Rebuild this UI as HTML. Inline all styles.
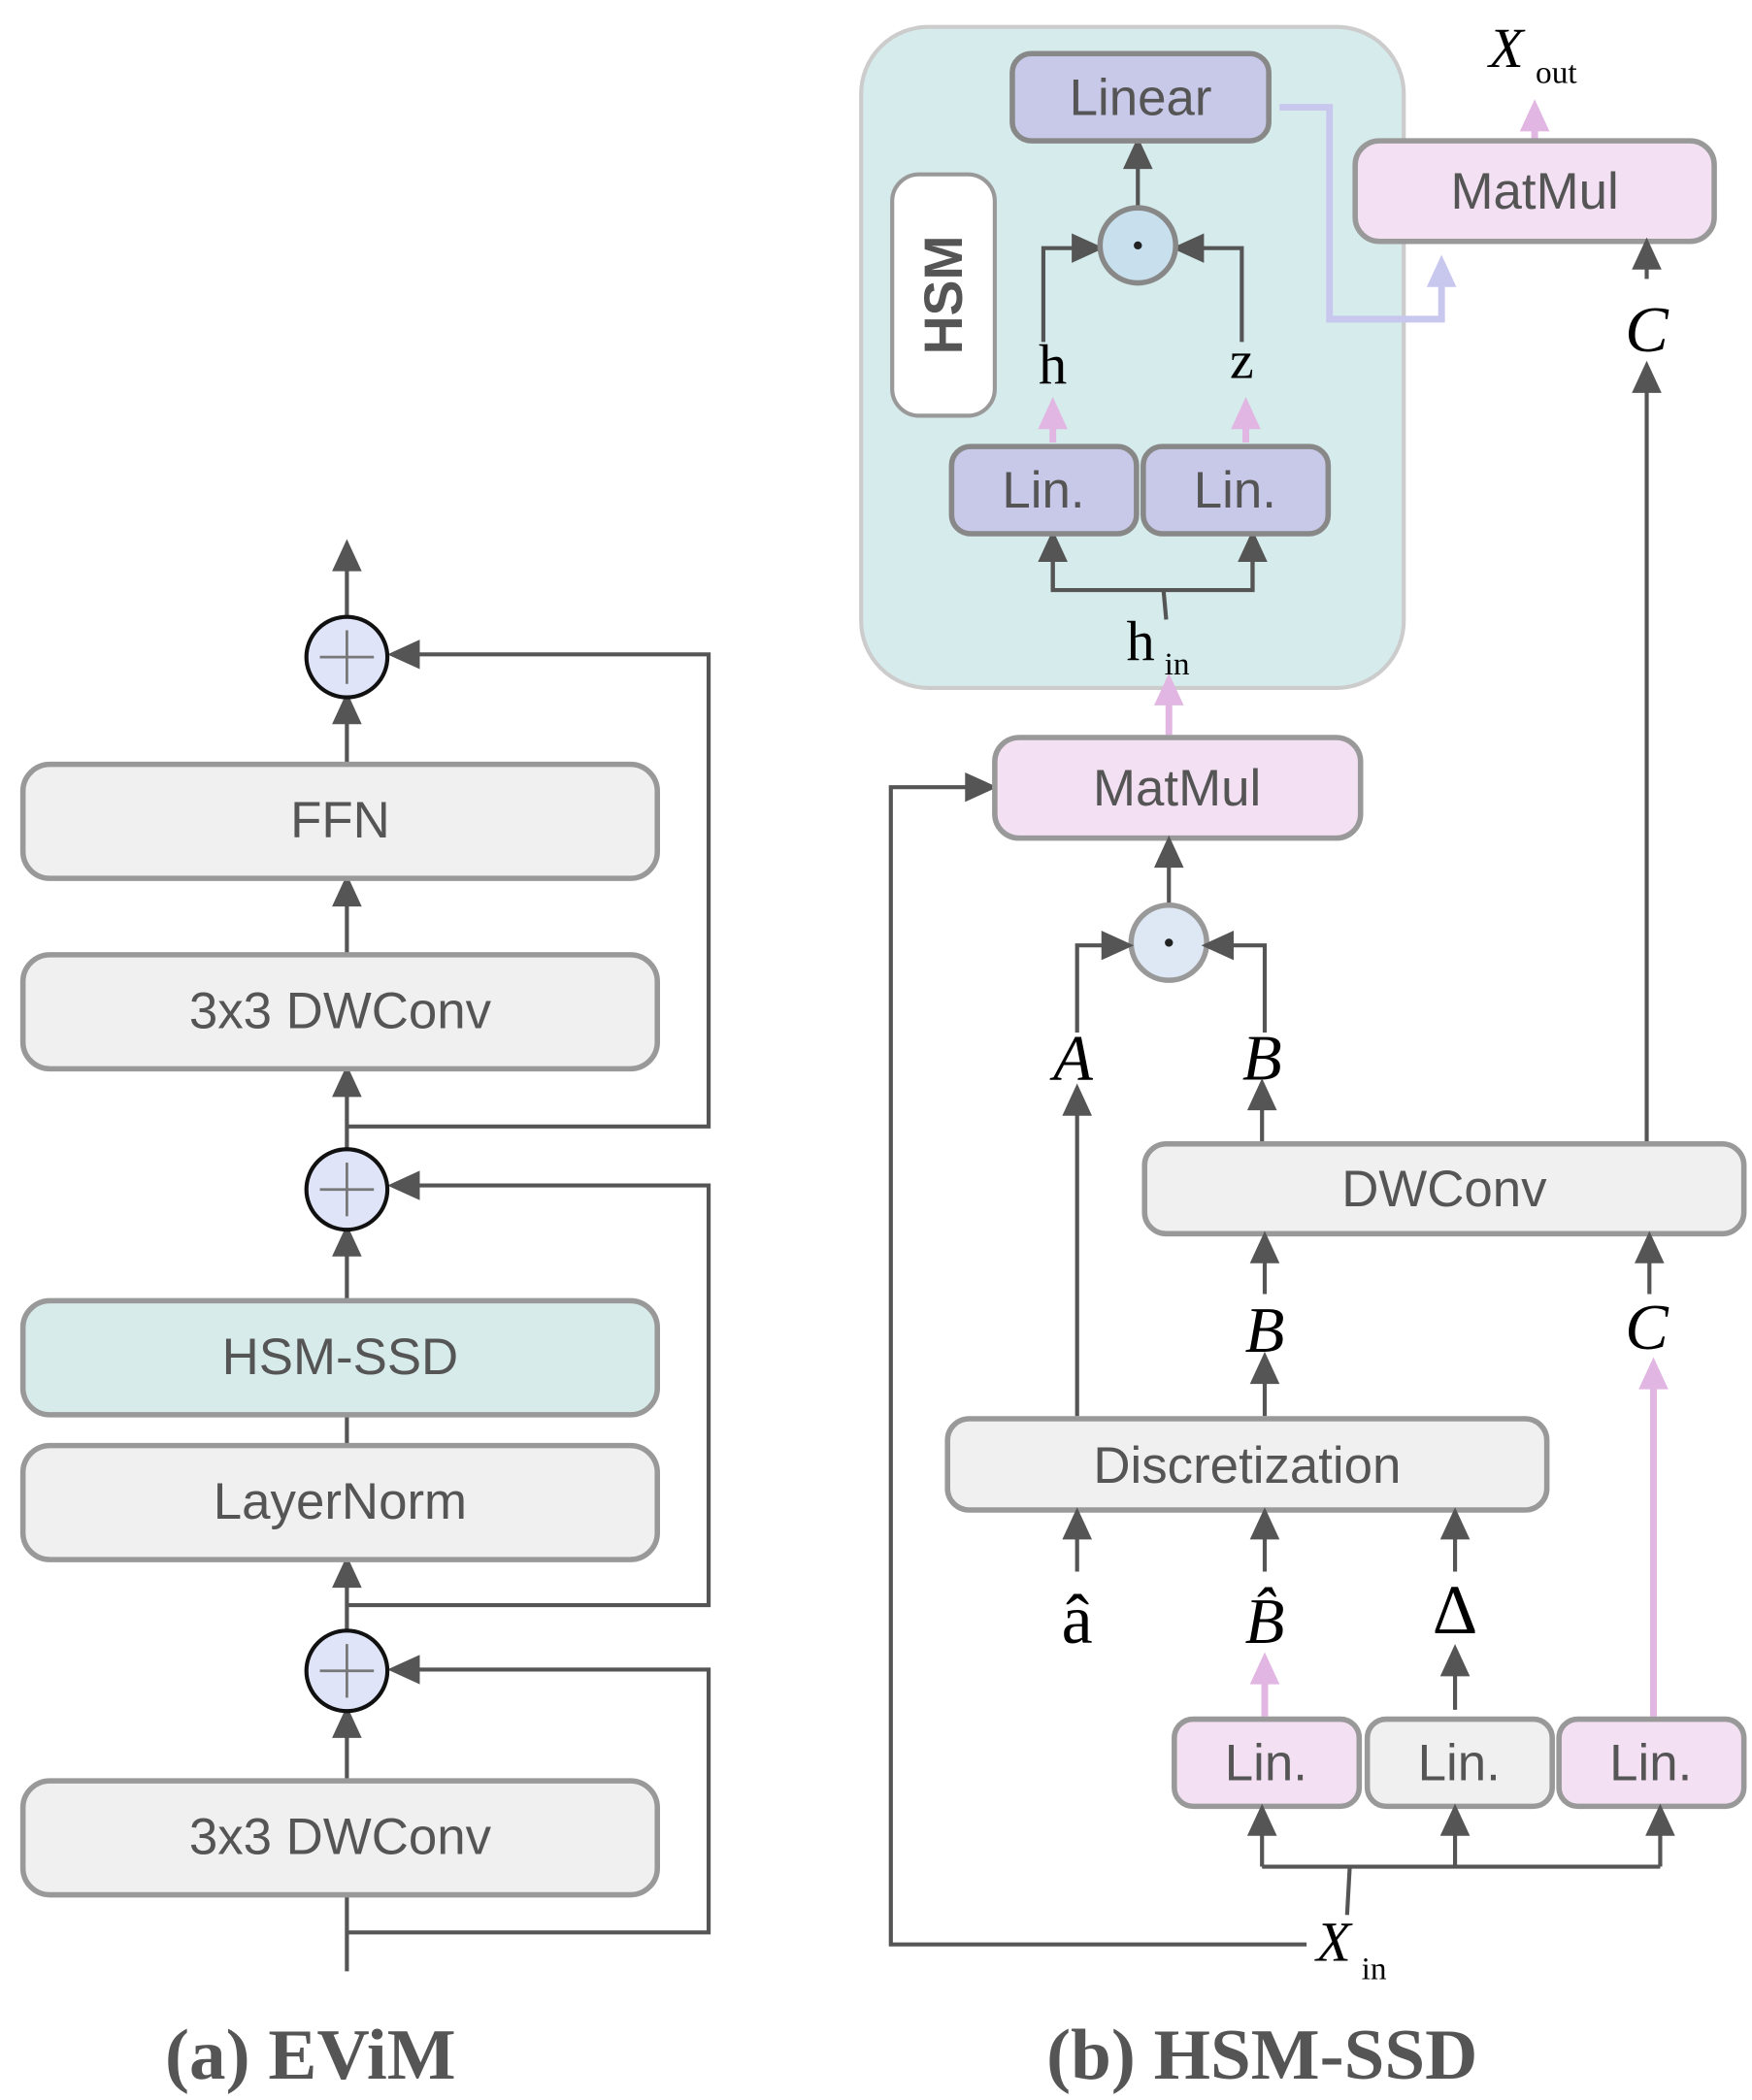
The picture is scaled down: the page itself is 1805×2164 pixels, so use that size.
<!DOCTYPE html>
<html><head><meta charset="utf-8">
<style>
html,body{margin:0;padding:0;background:#fff;}
svg{display:block;}
.box{stroke:#999;stroke-width:4;}
.t{font-family:"Liberation Sans",sans-serif;font-size:38px;fill:#555;text-anchor:middle;dominant-baseline:central;}
.ln{stroke:#555;stroke-width:3;fill:none;}
.pk{stroke:#e2b6e2;stroke-width:5;fill:none;}
.sv{font-family:"Liberation Serif",serif;fill:#000;text-anchor:middle;}
</style></head><body>
<svg width="1805" height="2164" viewBox="0 0 1298 1566" preserveAspectRatio="none" xmlns="http://www.w3.org/2000/svg">
<defs>
<marker id="a" viewBox="0 0 10 10" refX="9" refY="5" markerWidth="10" markerHeight="10" orient="auto" markerUnits="userSpaceOnUse" style="overflow:visible">
<path d="M-12,-11 L12,0 L-12,11 Z" fill="#555" transform="translate(9,5)"/></marker>
<marker id="p" viewBox="0 0 10 10" refX="9" refY="5" markerWidth="10" markerHeight="10" orient="auto" markerUnits="userSpaceOnUse" style="overflow:visible">
<path d="M-12,-11 L12,0 L-12,11 Z" fill="#e2b6e2" transform="translate(9,5)"/></marker>
<marker id="v" viewBox="0 0 10 10" refX="9" refY="5" markerWidth="10" markerHeight="10" orient="auto" markerUnits="userSpaceOnUse" style="overflow:visible">
<path d="M-12,-11 L12,0 L-12,11 Z" fill="#c8c8ee" transform="translate(9,5)"/></marker>
</defs>

<!-- LEFT: EViM -->
<g>
<line class="ln" x1="257" y1="1470" x2="257" y2="1284" marker-end="url(#a)"/>
<line class="ln" x1="257" y1="1216" x2="257" y2="1172" marker-end="url(#a)"/>
<line class="ln" x1="257" y1="1078" x2="257" y2="1055"/>
<line class="ln" x1="257" y1="970" x2="257" y2="925" marker-end="url(#a)"/>
<line class="ln" x1="257" y1="857" x2="257" y2="806" marker-end="url(#a)"/>
<line class="ln" x1="257" y1="712" x2="257" y2="664" marker-end="url(#a)"/>
<line class="ln" x1="257" y1="570" x2="257" y2="528" marker-end="url(#a)"/>
<line class="ln" x1="257" y1="460" x2="257" y2="414" marker-end="url(#a)"/>
<polyline class="ln" points="257,1441 525,1441 525,1245 299,1245" marker-end="url(#a)"/>
<polyline class="ln" points="257,1197 525,1197 525,884 299,884" marker-end="url(#a)"/>
<polyline class="ln" points="257,840 525,840 525,488 299,488" marker-end="url(#a)"/>

<rect class="box" x="17" y="570" width="470" height="85" rx="20" fill="#f0f0f0"/>
<text class="t" x="252" y="612">FFN</text>
<rect class="box" x="17" y="712" width="470" height="85" rx="20" fill="#f0f0f0"/>
<text class="t" x="252" y="754">3x3 DWConv</text>
<rect class="box" x="17" y="970" width="470" height="85" rx="20" fill="#d8ebeb"/>
<text class="t" x="252" y="1012">HSM-SSD</text>
<rect class="box" x="17" y="1078" width="470" height="85" rx="20" fill="#f0f0f0"/>
<text class="t" x="252" y="1120">LayerNorm</text>
<rect class="box" x="17" y="1328" width="470" height="85" rx="20" fill="#f0f0f0"/>
<text class="t" x="252" y="1370">3x3 DWConv</text>

<g stroke="#111" stroke-width="3">
<circle cx="257" cy="490" r="30" fill="#e0e4f8"/>
<circle cx="257" cy="887" r="30" fill="#e0e4f8"/>
<circle cx="257" cy="1246" r="30" fill="#e0e4f8"/>
</g>
<g stroke="#777" stroke-width="2">
<line x1="237" y1="490" x2="277" y2="490"/><line x1="257" y1="470" x2="257" y2="510"/>
<line x1="237" y1="887" x2="277" y2="887"/><line x1="257" y1="867" x2="257" y2="907"/>
<line x1="237" y1="1246" x2="277" y2="1246"/><line x1="257" y1="1226" x2="257" y2="1266"/>
</g>
</g>

<!-- RIGHT: HSM-SSD -->
<rect x="638" y="20" width="402" height="493" rx="50" fill="#d6ebeb" stroke="#ccc" stroke-width="3"/>
<rect x="661" y="130" width="76" height="180" rx="20" fill="#fff" stroke="#999" stroke-width="3"/>
<text x="699" y="220" transform="rotate(-90 699 220)" text-anchor="middle" dominant-baseline="central" font-family="Liberation Sans,sans-serif" font-weight="bold" font-size="40" fill="#555">HSM</text>

<polyline points="948,80 985,80 985,238 1068,238 1068,202" fill="none" stroke="#c8c8ee" stroke-width="5" marker-end="url(#v)"/>

<line class="ln" x1="843" y1="155" x2="843" y2="114" marker-end="url(#a)"/>
<polyline class="ln" points="773,255 773,185 806,185" marker-end="url(#a)"/>
<polyline class="ln" points="920,255 920,185 880,185" marker-end="url(#a)"/>
<line class="pk" x1="780" y1="330" x2="780" y2="308" marker-end="url(#p)"/>
<line class="pk" x1="923" y1="330" x2="923" y2="308" marker-end="url(#p)"/>
<polyline class="ln" points="780,410 780,440 928,440 928,410"/>
<line class="ln" x1="780" y1="440" x2="780" y2="407" marker-end="url(#a)"/>
<line class="ln" x1="928" y1="440" x2="928" y2="407" marker-end="url(#a)"/>
<line class="ln" x1="862" y1="440" x2="864" y2="462"/>
<line class="pk" x1="866" y1="548" x2="866" y2="514" marker-end="url(#p)"/>

<rect x="750" y="40" width="190" height="65" rx="14" fill="#c8c8e8" stroke="#888" stroke-width="4"/>
<text class="t" x="845" y="73">Linear</text>
<circle cx="843" cy="183" r="28" fill="#c8e0ee" stroke="#888" stroke-width="4"/>
<circle cx="843" cy="183" r="3" fill="#222"/>
<rect x="705" y="333" width="137" height="65" rx="14" fill="#c8c8e8" stroke="#888" stroke-width="4"/>
<text class="t" x="773" y="366">Lin.</text>
<rect x="847" y="333" width="137" height="65" rx="14" fill="#c8c8e8" stroke="#888" stroke-width="4"/>
<text class="t" x="915" y="366">Lin.</text>
<text class="sv" x="780" y="286" font-size="42">h</text>
<text class="sv" x="920" y="282" font-size="40">z</text>
<text class="sv" x="845" y="492" font-size="42">h</text><text class="sv" x="872" y="503" font-size="24">in</text>

<line class="pk" x1="1137" y1="105" x2="1137" y2="86" marker-end="url(#p)"/>
<rect x="1004" y="105" width="266" height="75" rx="18" fill="#f3e0f3" stroke="#999" stroke-width="4"/>
<text class="t" x="1137" y="143">MatMul</text>
<text class="sv" x="1116" y="50" font-size="42" font-style="italic">X</text><text class="sv" x="1153" y="62" font-size="24">out</text>
<line class="ln" x1="1220" y1="208" x2="1220" y2="189" marker-end="url(#a)"/>
<text class="sv" x="1220" y="262" font-size="48" font-style="italic">C</text>
<line class="ln" x1="1220" y1="852" x2="1220" y2="281" marker-end="url(#a)"/>

<polyline class="ln" points="968,1450 660,1450 660,587 727,587" marker-end="url(#a)"/>
<rect x="737" y="550" width="271" height="75" rx="18" fill="#f3e0f3" stroke="#999" stroke-width="4"/>
<text class="t" x="872" y="588">MatMul</text>
<line class="ln" x1="866" y1="676" x2="866" y2="635" marker-end="url(#a)"/>
<circle cx="866" cy="703" r="28" fill="#dde8f4" stroke="#999" stroke-width="4"/>
<circle cx="866" cy="703" r="3" fill="#222"/>
<polyline class="ln" points="798,770 798,705 828,705" marker-end="url(#a)"/>
<polyline class="ln" points="937,770 937,705 902,705" marker-end="url(#a)"/>
<text class="sv" x="795" y="805" font-size="48" font-style="italic">A</text>
<text class="sv" x="935" y="805" font-size="48" font-style="italic">B</text>
<line class="ln" x1="798" y1="1056" x2="798" y2="820" marker-end="url(#a)"/>
<line class="ln" x1="935" y1="852" x2="935" y2="816" marker-end="url(#a)"/>

<rect x="848" y="853" width="444" height="67" rx="16" fill="#f0f0f0" stroke="#999" stroke-width="4"/>
<text class="t" x="1070" y="887">DWConv</text>
<line class="ln" x1="937" y1="965" x2="937" y2="930" marker-end="url(#a)"/>
<text class="sv" x="937" y="1008" font-size="48" font-style="italic">B</text>
<line class="ln" x1="937" y1="1056" x2="937" y2="1020" marker-end="url(#a)"/>
<line class="ln" x1="1222" y1="965" x2="1222" y2="930" marker-end="url(#a)"/>
<text class="sv" x="1220" y="1006" font-size="48" font-style="italic">C</text>
<line class="pk" x1="1225" y1="1280" x2="1225" y2="1024" marker-end="url(#p)"/>

<rect x="702" y="1058" width="444" height="68" rx="16" fill="#f0f0f0" stroke="#999" stroke-width="4"/>
<text class="t" x="924" y="1093">Discretization</text>
<line class="ln" x1="798" y1="1172" x2="798" y2="1136" marker-end="url(#a)"/>
<line class="ln" x1="937" y1="1172" x2="937" y2="1136" marker-end="url(#a)"/>
<line class="ln" x1="1078" y1="1172" x2="1078" y2="1136" marker-end="url(#a)"/>
<text class="sv" x="798" y="1225" font-size="52">â</text>
<text class="sv" x="937" y="1225" font-size="48" font-style="italic">B̂</text>
<text class="sv" x="1078" y="1218" font-size="52">Δ</text>
<line class="pk" x1="937" y1="1280" x2="937" y2="1244" marker-end="url(#p)"/>
<line class="ln" x1="1078" y1="1275" x2="1078" y2="1238" marker-end="url(#a)"/>

<rect x="870" y="1282" width="137" height="65" rx="14" fill="#f3e0f3" stroke="#999" stroke-width="4"/>
<text class="t" x="938" y="1315">Lin.</text>
<rect x="1013" y="1282" width="137" height="65" rx="14" fill="#f0f0f0" stroke="#999" stroke-width="4"/>
<text class="t" x="1081" y="1315">Lin.</text>
<rect x="1155" y="1282" width="137" height="65" rx="14" fill="#f3e0f3" stroke="#999" stroke-width="4"/>
<text class="t" x="1223" y="1315">Lin.</text>

<polyline class="ln" points="935,1392 1230,1392"/>
<line class="ln" x1="935" y1="1392" x2="935" y2="1357" marker-end="url(#a)"/>
<line class="ln" x1="1078" y1="1392" x2="1078" y2="1357" marker-end="url(#a)"/>
<line class="ln" x1="1230" y1="1392" x2="1230" y2="1357" marker-end="url(#a)"/>
<line class="ln" x1="1000" y1="1392" x2="998" y2="1428"/>
<text class="sv" x="988" y="1462" font-size="42" font-style="italic">X</text><text class="sv" x="1018" y="1476" font-size="24">in</text>

<text x="230" y="1550" text-anchor="middle" font-family="Liberation Serif,serif" font-weight="bold" font-size="54" fill="#555">(a) EViM</text>
<text x="935" y="1550" text-anchor="middle" font-family="Liberation Serif,serif" font-weight="bold" font-size="54" fill="#555">(b) HSM-SSD</text>
</svg>
</body></html>
